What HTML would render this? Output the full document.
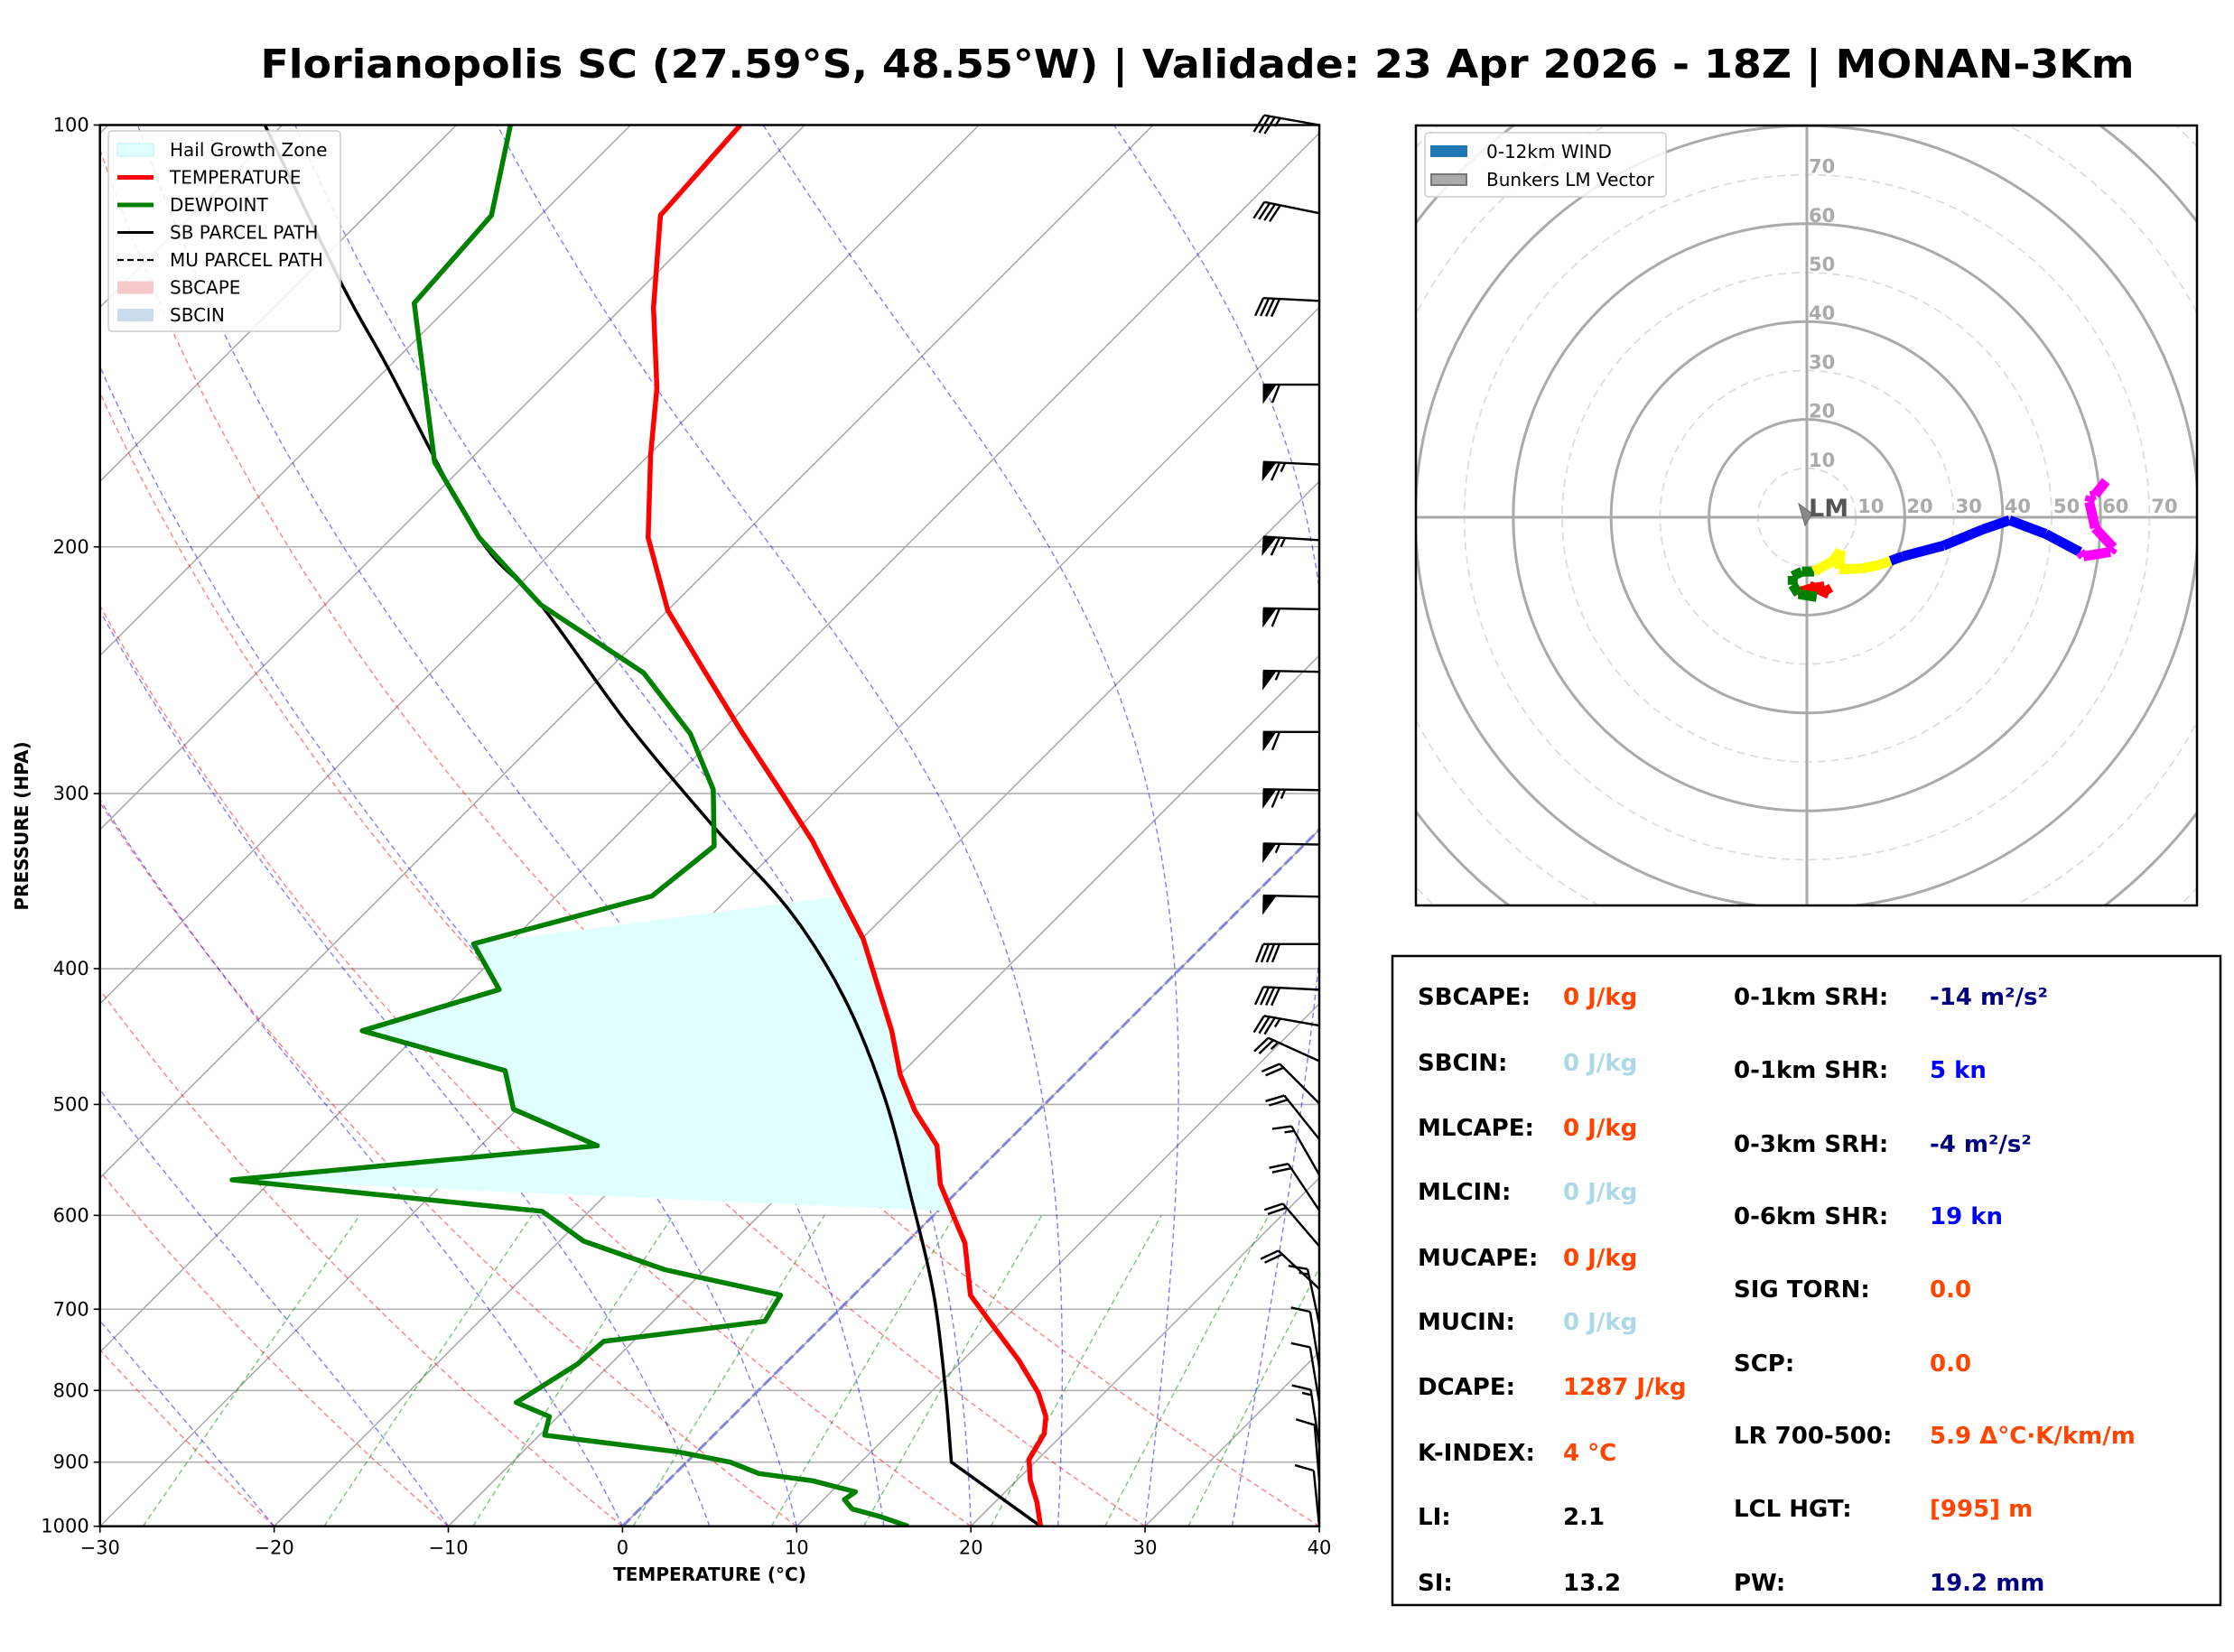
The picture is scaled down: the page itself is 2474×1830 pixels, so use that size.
<!DOCTYPE html>
<html><head><meta charset="utf-8"><style>
html,body{margin:0;padding:0;background:#fff;}
svg{display:block;font-family:"DejaVu Sans","Liberation Sans",sans-serif;}
</style></head><body>
<svg id="fig" xmlns="http://www.w3.org/2000/svg" width="2474" height="1830" viewBox="0 0 2474 1830">
<defs>
<clipPath id="skclip"><rect x="110.7" y="138.5" width="1350.3" height="1552.2"/></clipPath>
<clipPath id="hoclip"><rect x="1568" y="139" width="865" height="864"/></clipPath>
</defs>
<rect width="2474" height="1830" fill="#fff"/>
<text x="1326" y="86" text-anchor="middle" font-size="44" font-weight="bold" textLength="2075" lengthAdjust="spacingAndGlyphs">Florianopolis SC (27.59°S, 48.55°W) | Validade: 23 Apr 2026 - 18Z | MONAN-3Km</text>
<g id="skew"></g>
<g id="hodo"></g>
<g id="table">
<rect x="1542" y="1059" width="917" height="719" fill="#fff" stroke="#000" stroke-width="2.5"/>
</g>
</svg>
<script>
// ===== Skew-T data =====
const tempP = [1000,961,928,896,859,835,803,761,714,684,628,602,570,535,505,476,443,414,381,354,324,299,270,244,222,197,172,154,135,116,100];
const tempT = [24.0,22.4,20.8,19.5,18.9,18.0,16.2,13.2,9.3,6.7,3.4,1.3,-1.4,-3.8,-7.1,-10.0,-13.0,-16.1,-19.9,-23.8,-28.5,-33.1,-39.0,-44.7,-50.0,-55.3,-59.9,-63.4,-68.2,-73.1,-73.7];
const dewP = [1000,984,972,957,945,928,917,900,885,861,835,816,766,738,714,684,656,626,596,566,535,504,473,443,414,384,355,327,298,272,246,220,197,174,134,116,100];
const dewT = [16.4,14.2,12.2,11.2,11.4,8.3,4.8,2.5,-1.1,-9.7,-10.5,-13.2,-11.9,-11.7,-3.6,-4.2,-12.3,-18.6,-22.7,-42.3,-23.3,-30.2,-32.9,-43.4,-37.9,-42.0,-34.5,-33.8,-37.1,-41.6,-47.8,-57.6,-65.0,-71.9,-82.2,-82.8,-86.9];
const parcelP = [1000,900,797,684,584,493,419,364,316,267,220,196,149,130,100];
const parcelT = [24.0,15.2,10.6,4.6,-2.2,-9.7,-17.7,-25.7,-35.1,-45.9,-57.6,-65.3,-80.0,-87.4,-101.0];
const hailTop = 355;
const hailBot = 596;
const pTicks = [100,200,300,400,500,600,700,800,900,1000];
const tTicks = [-30,-20,-10,0,10,20,30,40];
// wind barbs (knots)
const barbP = [100,115.6,133.5,153.2,174.7,197.8,221.6,245.6,271.1,298.3,326.2,355.4,384.2,414.1,439.2,465.6,499.2,529.4,561.3,595.1,631.1,677,717,769.6,816,875,928,1000];
const barbU = [34,39,40,60,65,65,60,55,60,65,55,50,40,40,34,22,15,12,8,10,12,15,3,2,2,2,1,1];
const barbV = [-6,-8,-2,0,-3,-4,-1,-1,0,-1,-1,-1,0,-2,-6,-10,-15,-15,-14,-15,-14,-14,-14,-12,-12,-13,-12,-10];
// ===== Hodograph data (knots) =====
const hodoRedU = [-2,1.1,3.6,4.5,2.5,0.5];
const hodoRedV = [-15.4,-14.5,-14.1,-15.7,-14.8,-14.0];
const hodoGreenU = [1.5,-1,-2.9,-2.9,-1.7,2];
const hodoGreenV = [-11.1,-11.1,-12,-13.8,-15.7,-16.3];
const hodoYellowU = [1.4,5.4,6.9,6.6,10.9,14.6,17.1];
const hodoYellowV = [-11.1,-8.9,-6.8,-10.6,-10.5,-9.8,-8.9];
const hodoBlueU = [17.1,19.6,27.9,35.9,41.4,48.8,55.8];
const hodoBlueV = [-8.9,-8,-5.8,-2.5,-0.6,-3.4,-7.1];
const hodoMagU = [55.8,56.5,62,62.6,58.9,57.7,58,58.9,61.1];
const hodoMagV = [-7.1,-8,-7.1,-6.2,-2.2,3.1,4.3,4.6,7.4];
const ringLabels = [10,20,30,40,50,60,70];
// ===== Table data =====
const leftLabels = ["SBCAPE:","SBCIN:","MLCAPE:","MLCIN:","MUCAPE:","MUCIN:","DCAPE:","K-INDEX:","LI:","SI:"];
const leftValues = ["0 J/kg","0 J/kg","0 J/kg","0 J/kg","0 J/kg","0 J/kg","1287 J/kg","4 °C","2.1","13.2"];
const leftColors = ["#ff4500","#add8e6","#ff4500","#add8e6","#ff4500","#add8e6","#ff4500","#ff4500","#000","#000"];
const rightLabels = ["0-1km SRH:","0-1km SHR:","0-3km SRH:","0-6km SHR:","SIG TORN:","SCP:","LR 700-500:","LCL HGT:","PW:"];
const rightValues = ["-14 m²/s²","5 kn","-4 m²/s²","19 kn","0.0","0.0","5.9 Δ°C·K/km/m","[995] m","19.2 mm"];
const rightColors = ["#000080","#0000ff","#000080","#0000ff","#ff4500","#ff4500","#ff4500","#ff4500","#000080"];

const NS="http://www.w3.org/2000/svg";
function mk(tag, attrs, parent){const e=document.createElementNS(NS,tag);for(const k in attrs)e.setAttribute(k,attrs[k]);if(parent)parent.appendChild(e);return e;}
const X0=110.7,X1=1461,Y0=138.5,Y1=1690.7,SC=(X1-X0)/70;
function yP(p){return Y1-(3-Math.log10(p))*(Y1-Y0);}
function xT(T,p){return X0+(T+30)*SC+(Y1-yP(p));}
function pts(Ps,Ts){return Ps.map((p,i)=>xT(Ts[i],p).toFixed(1)+","+yP(p).toFixed(1)).join(" ");}
function smoothPath(Ps,Ts){const P=Ps.map((p,i)=>[xT(Ts[i],p),yP(p)]);let d=`M${P[0][0]},${P[0][1]}`;
for(let i=0;i<P.length-1;i++){const p1=P[i],p2=P[i+1],p3=P[Math.min(P.length-1,i+2)];
if(i==0){d+=` L${p2[0]},${p2[1]}`;continue;}
const p0=(i==1)?p1:P[i-1];
let c1;
if(i==1)c1=[p1[0]+(p2[0]-p1[0])/3,p1[1]+(p2[1]-p1[1])/3];else c1=[p1[0]+(p2[0]-p0[0])/6,p1[1]+(p2[1]-p0[1])/6];
const c2=[p2[0]-(p3[0]-p1[0])/6,p2[1]-(p3[1]-p1[1])/6];
d+=` C${c1[0]},${c1[1]} ${c2[0]},${c2[1]} ${p2[0]},${p2[1]}`;}return d;}

const sk=document.getElementById('skew');
const clipG=mk('g',{'clip-path':'url(#skclip)'},sk);
pTicks.forEach(p=>{const l=mk('line',{x1:X0,x2:X1,y1:yP(p),y2:yP(p),stroke:'#b0b0b0','stroke-width':1.6},clipG);

});
for(let T=-150;T<=40;T+=10){const l=mk('line',{x1:xT(T,1000),y1:Y1,x2:xT(T,100),y2:Y0,stroke:'#a8a8a8','stroke-width':1.5},clipG);

}
const plev=[];for(let p=1000;p>=100;p-=10)plev.push(p);
for(let t0=-40;t0<=40;t0+=10){const Ts=plev.map(p=>(t0+273.15)*Math.pow(p/1000,0.2857)-273.15);
const l=mk('polyline',{points:pts(plev,Ts),fill:'none',stroke:'#ff0000','stroke-opacity':0.5,'stroke-width':1.4,'stroke-dasharray':'6,4'},clipG);

}
function dTdp(p,T){const es=6.112*Math.exp(17.67*(T-273.15)/(T-29.65));const rs=0.622*es/(p-es);const Rd=287.04,cp=1005.7,Lv=2.501e6;
return (Rd*T+Lv*rs)/(cp+Lv*Lv*rs*0.622/(Rd*T*T))/p;}
[-40,-30,-20,-10,0,5,10,15,20,25,30,35].forEach(t0=>{let T=t0+273.15;const Ps=[1000],Ts=[t0];
for(let p=1000;p>100;p-=5){const h=-5;const k1=dTdp(p,T);const k2=dTdp(p+h/2,T+h/2*k1);T+=h*k2;Ps.push(p+h);Ts.push(T-273.15);}
const l=mk('polyline',{points:pts(Ps,Ts),fill:'none',stroke:'#0000ff','stroke-opacity':0.5,'stroke-width':1.4,'stroke-dasharray':'6,4'},clipG);

});
[0.0004,0.001,0.002,0.004,0.007,0.01,0.016,0.024,0.032].forEach(w=>{const Ps=[],Ts=[];
for(let p=1000;p>=600;p-=10){const e=w*p/(0.622+w);const a=Math.log(e/6.112);Ps.push(p);Ts.push(243.5*a/(17.67-a));}
const l=mk('polyline',{points:pts(Ps,Ts),fill:'none',stroke:'#008000','stroke-opacity':0.5,'stroke-width':1.4,'stroke-dasharray':'6,4'},clipG);

});
const fz=mk('line',{x1:xT(0,1000),y1:Y1,x2:xT(0,100),y2:Y0,stroke:'#7777dd','stroke-opacity':0.8,'stroke-width':3.2,'stroke-dasharray':'12,5'},clipG);


function interp(Ps,Ts,p){for(let i=0;i<Ps.length-1;i++){if(p<=Ps[i]&&p>=Ps[i+1]){const f=(Math.log(Ps[i])-Math.log(p))/(Math.log(Ps[i])-Math.log(Ps[i+1]));return Ts[i]+f*(Ts[i+1]-Ts[i]);}}return Ts[Ts.length-1];}
{const hp=[],ht=[];hp.push(hailBot);ht.push(interp(tempP,tempT,hailBot));
tempP.forEach((p,i)=>{if(p<hailBot&&p>hailTop){hp.push(p);ht.push(tempT[i]);}});
hp.push(hailTop);ht.push(interp(tempP,tempT,hailTop));
const dp=[],dt=[];dewP.forEach((p,i)=>{if(p<hailBot-20&&p>hailTop+20){dp.push(p);dt.push(dewT[i]);}});
const polyPts=pts(hp,ht)+" "+pts(dp.slice().reverse(),dt.slice().reverse());
const hz=mk('polygon',{points:polyPts,fill:'#e0ffff',stroke:'none'},clipG);

}
const par=mk('path',{d:smoothPath(parcelP,parcelT),fill:'none',stroke:'#000','stroke-width':3.5,'stroke-linejoin':'round'},clipG);


const dwl=mk('polyline',{points:pts(dewP,dewT),fill:'none',stroke:'#008000','stroke-width':5.5,'stroke-linejoin':'round'},clipG);


const tl=mk('polyline',{points:pts(tempP,tempT),fill:'none',stroke:'#ff0000','stroke-width':5.5,'stroke-linejoin':'round'},clipG);


const fr=mk('rect',{x:X0,y:Y0,width:X1-X0,height:Y1-Y0,fill:'none',stroke:'#000','stroke-width':2.5},sk);


pTicks.forEach(p=>{const y=yP(p);mk('line',{x1:X0-7,x2:X0,y1:y,y2:y,stroke:'#000','stroke-width':1.6},sk);
const t=mk('text',{x:X0-12,y:y+7,'text-anchor':'end','font-size':21},sk);t.textContent=p;

});
tTicks.forEach(T=>{const x=X0+(T+30)*SC;mk('line',{x1:x,x2:x,y1:Y1,y2:Y1+7,stroke:'#000','stroke-width':1.6},sk);
const t=mk('text',{x:x,y:Y1+31,'text-anchor':'middle','font-size':21},sk);t.textContent=(T<0?'\u2212':'')+Math.abs(T);

});
{const t=mk('text',{x:786,y:1751,'text-anchor':'middle','font-size':20,'font-weight':'bold'},sk);t.textContent='TEMPERATURE (°C)';


const t2=mk('text',{x:31,y:915,'text-anchor':'middle','font-size':20,'font-weight':'bold',transform:'rotate(-90 31 915)'},sk);t2.textContent='PRESSURE (HPA)';

}
// wind barbs
const L=62;
barbP.forEach((p,i)=>{const u=barbU[i],v=barbV[i];const s=Math.hypot(u,v);const g=mk('g',{},sk);


const bx=X1,by=yP(p);const dx=-u/s,dy=v/s;const px=dy,py=-dx;
const tx=bx+dx*L,ty=by+dy*L;
mk('line',{x1:bx,y1:by,x2:tx,y2:ty,stroke:'#000','stroke-width':2.4},g);
let r=Math.round(s/5)*5;let flags=Math.floor(r/50);r-=flags*50;let full=Math.floor(r/10);let half=(r%10)>=5?1:0;
let d=0;const fw=14,H=20;
for(let f=0;f<flags;f++){const ax=tx-dx*d,ay=ty-dy*d;const cx=tx-dx*(d+fw),cy=ty-dy*(d+fw);
mk('polygon',{points:`${ax},${ay} ${cx},${cy} ${ax+px*H},${ay+py*H}`,fill:'#000',stroke:'#000','stroke-width':1},g);d+=fw+4;}
for(let f=0;f<full;f++){const ax=tx-dx*d,ay=ty-dy*d;mk('line',{x1:ax,y1:ay,x2:ax+px*H+dx*8,y2:ay+py*H+dy*8,stroke:'#000','stroke-width':2.4},g);d+=6;}
if(half){if(flags+full==0)d+=6;const ax=tx-dx*d,ay=ty-dy*d;mk('line',{x1:ax,y1:ay,x2:ax+px*H*0.5+dx*4,y2:ay+py*H*0.5+dy*4,stroke:'#000','stroke-width':2.4},g);}
});
{const lg=mk('g',{},sk);


mk('rect',{x:120,y:145,width:257,height:222,rx:4,fill:'#fff','fill-opacity':0.85,stroke:'#cccccc','stroke-width':1.5},lg);
const items=[['patch','#e0ffff','Hail Growth Zone'],['line','#ff0000','TEMPERATURE'],['line','#008000','DEWPOINT'],['line','#000','SB PARCEL PATH'],['dash','#000','MU PARCEL PATH'],['patch','#f6c9cb','SBCAPE'],['patch','#c9dcee','SBCIN']];
items.forEach((it,k)=>{const y=166+k*30.5;
if(it[0]=='patch')mk('rect',{x:130,y:y-7,width:40,height:14,fill:it[1],stroke:it[1]=='#e0ffff'?'#b8f0f0':'none'},lg);
else if(it[0]=='line')mk('line',{x1:130,x2:170,y1:y,y2:y,stroke:it[1],'stroke-width':it[1]=='#000'?3:5},lg);
else mk('line',{x1:130,x2:170,y1:y,y2:y,stroke:it[1],'stroke-width':2.2,'stroke-dasharray':'7,4'},lg);
const t=mk('text',{x:188,y:y+7,'font-size':20},lg);t.textContent=it[2];

});}

// ===== Hodograph =====
const ho=document.getElementById('hodo');
const HX=2001,HY=573,K=5.42;
const hc=mk('g',{'clip-path':'url(#hoclip)'},ho);
for(let r=10;r<=120;r+=10){const c=mk('circle',{cx:HX,cy:HY,r:r*K,fill:'none',stroke:r%20==0?'#aaaaaa':'#dddddd','stroke-width':r%20==0?3:1.8,'stroke-dasharray':r%20==0?'none':'9,6'},hc);

}
mk('line',{x1:1568,x2:2433,y1:HY,y2:HY,stroke:'#aaaaaa','stroke-width':3},hc);
mk('line',{x1:HX,x2:HX,y1:139,y2:1003,stroke:'#aaaaaa','stroke-width':3},hc);
ringLabels.forEach(n=>{const t=mk('text',{x:HX+n*K+2,y:HY-5,'font-size':21,'font-weight':'bold',fill:'#aaaaaa'},hc);t.textContent=n;


const t2=mk('text',{x:HX+2,y:HY-n*K-2,'font-size':21,'font-weight':'bold',fill:'#aaaaaa'},hc);t2.textContent=n;

});
function hseg(U,V,col,nm){const g=mk('g',{},hc);


for(let i=0;i<U.length-1;i++)mk('line',{x1:HX+U[i]*K,y1:HY-V[i]*K,x2:HX+U[i+1]*K,y2:HY-V[i+1]*K,stroke:col,'stroke-width':11,'stroke-linecap':'butt'},g);}
hseg(hodoRedU,hodoRedV,'#ff0000','hodo-0-1km');
hseg(hodoGreenU,hodoGreenV,'#008000','hodo-1-3km');
hseg(hodoYellowU,hodoYellowV,'#ffff00','hodo-3-6km');
hseg(hodoBlueU,hodoBlueV,'#0000ff','hodo-6-9km');
hseg(hodoMagU,hodoMagV,'#ff00ff','hodo-9-12km');
{const lm=mk('polygon',{points:`${HX-9},${HY-15} ${HX+6},${HY-4} ${HX-2},${HY+9}`,fill:'#888',stroke:'#666','stroke-width':1},hc);


const t=mk('text',{x:HX+2,y:HY-1,'font-size':27,'font-weight':'bold',fill:'#555'},hc);t.textContent='LM';

}
mk('rect',{x:1568,y:139,width:865,height:864,fill:'none',stroke:'#000','stroke-width':2.5},ho);
{const lg=mk('g',{},ho);


mk('rect',{x:1578,y:147,width:267,height:71,rx:4,fill:'#fff','fill-opacity':0.85,stroke:'#cccccc','stroke-width':1.5},lg);
mk('rect',{x:1584,y:161,width:41,height:13,fill:'#1f77b4'},lg);
mk('rect',{x:1585,y:193,width:39,height:12,fill:'#aaaaaa',stroke:'#777','stroke-width':2},lg);
const t1=mk('text',{x:1646,y:175,'font-size':20},lg);t1.textContent='0-12km WIND';


const t2=mk('text',{x:1646,y:206,'font-size':20},lg);t2.textContent='Bunkers LM Vector';

}

// ===== Table =====
const tb=document.getElementById('table');
const leftY=[1103,1176,1248,1319,1392,1463,1535,1608,1679,1752];
const rightY=[1103,1184,1266,1346,1427,1509,1589,1670,1752];
leftLabels.forEach((s,i)=>{const t=mk('text',{x:1570,y:leftY[i]+10,'font-size':26,'font-weight':'bold'},tb);t.textContent=s;


const v=mk('text',{x:1731,y:leftY[i]+10,'font-size':26,'font-weight':'bold',fill:leftColors[i]},tb);v.textContent=leftValues[i];

});
rightLabels.forEach((s,i)=>{const t=mk('text',{x:1920,y:rightY[i]+10,'font-size':26,'font-weight':'bold'},tb);t.textContent=s;


const v=mk('text',{x:2137,y:rightY[i]+10,'font-size':26,'font-weight':'bold',fill:rightColors[i]},tb);v.textContent=rightValues[i];

});
</script>
</body></html>
